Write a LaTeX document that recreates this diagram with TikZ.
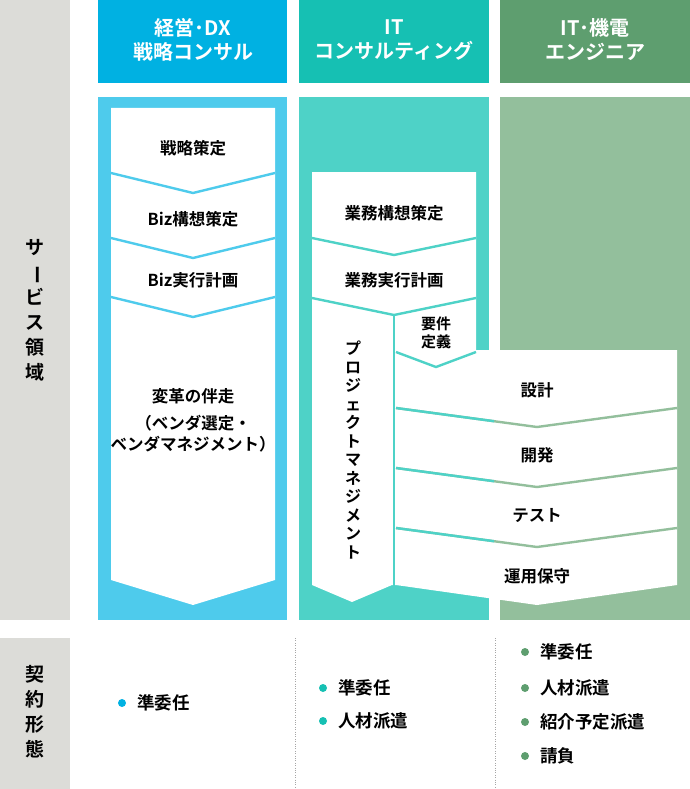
\documentclass[tikz,border=0pt]{standalone}
\usepackage{fontspec}
\setmainfont{Noto Sans CJK JP Bold}
\usetikzlibrary{positioning}

\begin{document}
\begin{tikzpicture}
        [x=1pt, y=-1pt, line join=round,
        % Styles
        header text/.style={text=white, font=\fontsize{20}{24}\selectfont, align=center},
        step text/.style={font=\fontsize{16.5}{21}\selectfont, align=center},
        bullet text/.style={font=\fontsize{17.5}{20}\selectfont, right, inner sep=0pt},
        side text/.style={font=\fontsize{19}{25}\selectfont, align=center},
        sep line/.style={line width=2.4pt}]

        % Colors
        \definecolor{grayband}{HTML}{DCDCD8}
        \definecolor{consulthead}{HTML}{00B1E2}
        \definecolor{consultbody}{HTML}{4ECBEC}
        \definecolor{ithead}{HTML}{16C0B3}
        \definecolor{itbody}{HTML}{4ED2C7}
        \definecolor{enghead}{HTML}{5E9E6F}
        \definecolor{engbody}{HTML}{93BF9C}

        \useasboundingbox (0, 0) rectangle (690, 789);

        % Bands
        \fill[grayband] (0, 0) rectangle (70, 620);
        \fill[grayband] (0, 638) rectangle (70, 789);
        \fill[consulthead] (98, 0) rectangle (287, 83);
        \fill[ithead] (299, 0) rectangle (489, 83);
        \fill[enghead] (500, 0) rectangle (690, 83);
        \fill[consultbody] (98, 97) rectangle (287, 620);
        \fill[itbody] (299, 97) rectangle (489, 620);
        \fill[engbody] (500, 97) rectangle (690, 620);

        \node[header text] (consult head) at (193, 40) {経営･DX\\戦略コンサル};
        \node[header text] (it head) at (394, 40) {IT\\コンサルティング};
        \node[header text] (eng head) at (595, 40) {IT･機電\\エンジニア};

        \node[side text] (service) at (35, 310)
                {サ\\\rotatebox[origin=c]{-90}{ー}\\ビ\\ス\\領\\域};
        \node[side text] (contract) at (35, 712) {契\\約\\形\\態};

        % Consulting flow
        \fill[white] (111, 108) -- (275, 108) -- (275, 580) -- (193, 605)
                -- (111, 580) -- cycle;
        \foreach \y in {173, 238, 297}
                \draw[sep line, consultbody] (111, \y) -- (193, \y+20) -- (275, \y);

        \node[step text] (strategy) at (193, 148) {戦略策定};
        \node[step text] (biz plan) at (193, 219) {Biz構想策定};
        \node[step text] (biz exec) at (193, 280) {Biz実行計画};
        \node[step text] (change) at (193, 420)
                {変革の伴走\\[6pt]（ベンダ選定・\\ベンダマネジメント）};

        % IT flow
        \fill[white] (312, 172) -- (476, 172) -- (476, 350) -- (677, 350)
                -- (677, 585) -- (537, 605) -- (396, 585) -- (392, 585)
                -- (352, 602) -- (312, 585) -- cycle;
        \foreach \y in {238, 298}
                \draw[sep line, itbody] (312, \y) -- (394, \y+17) -- (476, \y);
        \draw[sep line, itbody] (394, 315) -- (394, 590);
        \draw[sep line, itbody] (396, 352) -- (436, 367) -- (476, 352);
        \foreach \y in {408, 468, 528}
                \draw[sep line, engbody] (396, \y) -- (537, \y+19) -- (677, \y);
        \begin{scope}
                \clip (390, 300) rectangle (494, 620);
                \foreach \y in {408, 468, 528}
                        \draw[sep line, itbody] (396, \y) -- (537, \y+19) -- (677, \y);
        \end{scope}

        \node[step text] (biz design) at (394, 213) {業務構想策定};
        \node[step text] (biz plan it) at (394, 280) {業務実行計画};
        \node[step text, font=\fontsize{15}{18}\selectfont] (reqs) at (436, 333) {要件\\定義};
        \node[step text] (design) at (537, 390) {設計};
        \node[step text] (develop) at (537, 455) {開発};
        \node[step text] (test) at (537, 516) {テスト};
        \node[step text] (operate) at (537, 576) {運用保守};
        \node[step text, font=\fontsize{16}{18.5}\selectfont] (pm) at (353, 450)
                {プ\\ロ\\ジ\\ェ\\ク\\ト\\マ\\ネ\\ジ\\メ\\ン\\ト};

        % Contract types
        \draw[gray!70, dotted] (295, 638) -- (295, 789);
        \draw[gray!70, dotted] (495, 638) -- (495, 789);

        \fill[consulthead] (122, 703) circle [radius=4];
        \node[bullet text] (c1) at (137, 703) {準委任};
        \foreach \y/\ytext in {688/準委任, 721/人材派遣} {
                \fill[ithead] (323, \y) circle [radius=4];
                \node[bullet text] at (338, \y) {\ytext};
        }
        \foreach \y/\ytext in {652/準委任, 688/人材派遣, 722/紹介予定派遣, 756/請負} {
                \fill[enghead] (525, \y) circle [radius=4];
                \node[bullet text] at (540, \y) {\ytext};
        }
\end{tikzpicture}
\end{document}
